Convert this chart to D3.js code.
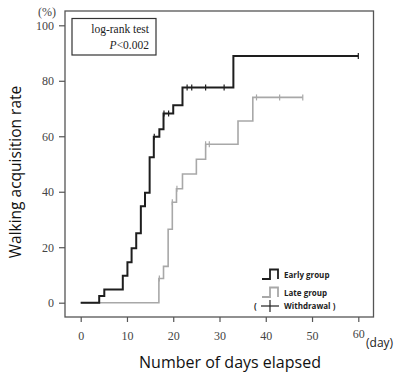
<!DOCTYPE html>
<html lang="en">
<head>
    <meta charset="utf-8">
    <script src="https://d3js.org/d3.v7.min.js"></script>
    <style>
        body { margin: 0; background: #fff; }
        svg { display: block; }
    </style>
</head>
<body>
    <script>
        // early group: step day / rate (%)
        const earlyDays = [0, 4, 5.1, 9.1, 10.1, 11, 12, 13, 13.9, 14.9, 15.8, 17, 17.9, 20, 22, 33, 60];
        const earlyRate = [0, 2.4, 4.8, 9.7, 14.6, 19.6, 25, 34.8, 39.6, 52.4, 59.8, 62.5, 68.2, 71.2, 77.6, 88.9, 88.9];
        const earlyCensor = [15.9, 18, 19, 23, 24, 27, 31, 60];

        // late group
        const lateDays = [0, 16.9, 17.9, 18.9, 19.8, 20.7, 22, 25, 27, 34, 37.2, 48];
        const lateRate = [0, 8.7, 13.1, 26.5, 36.2, 41.1, 46.4, 51.7, 57.1, 65.5, 74, 74];
        const lateCensor = [17, 19.8, 20.8, 27, 27.8, 38, 43, 48];

        const xTicks = [0, 10, 20, 30, 40, 50, 60];
        const yTicks = [0, 20, 40, 60, 80, 100];

        const width = 397, height = 374;

        const svg = d3.select("body").append("svg")
            .attr("width", width)
            .attr("height", height);

        const x = d3.scaleLinear().domain([0, 60]).range([80.7, 358.3]);
        const y = d3.scaleLinear().domain([0, 100]).range([302.7, 25.3]);

        // frame
        svg.append("rect")
            .attr("x", 65).attr("y", 11)
            .attr("width", 373.5 - 65).attr("height", 317 - 11)
            .attr("fill", "none").attr("stroke", "#555").attr("stroke-width", 1.3);

        // y axis
        const yAxis = svg.append("g")
            .attr("transform", "translate(65,0)")
            .attr("font-family", "'Liberation Serif', 'DejaVu Serif', serif")
            .call(d3.axisLeft(y).tickValues(yTicks).tickSize(6).tickPadding(5));
        yAxis.select(".domain").remove();

        // x axis
        const xAxis = svg.append("g")
            .attr("transform", "translate(0,317)")
            .call(d3.axisBottom(x).tickValues(xTicks).tickSize(5).tickPadding(9));
        xAxis.select(".domain").remove();

        svg.selectAll(".tick line").attr("stroke", "#555").attr("stroke-width", 1.2);
        svg.selectAll(".tick text")
            .attr("fill", "#444")
            .attr("font-family", "'Liberation Serif', 'DejaVu Serif', serif")
            .style("font-family", "'Liberation Serif', 'DejaVu Serif', serif")
            .style("font-size", "12px");
        xAxis.selectAll(".tick text").filter(d => d === 60).attr("dy", "0.55em");

        // unit labels
        svg.append("text").attr("x", 47).attr("y", 16)
            .attr("text-anchor", "middle")
            .style("font-family", "'Liberation Serif', serif").style("font-size", "12px")
            .attr("fill", "#444").text("(%)");
        svg.append("text").attr("x", 366).attr("y", 347)
            .style("font-family", "'Open Sans', sans-serif").style("font-size", "12px")
            .attr("fill", "#222").text("(day)");

        // axis titles
        svg.append("text")
            .attr("transform", "translate(21,172) rotate(-90)")
            .attr("text-anchor", "middle")
            .style("font-family", "'Open Sans', sans-serif").style("font-size", "15.5px")
            .attr("fill", "#111").text("Walking acquisition rate");
        svg.append("text")
            .attr("x", 230).attr("y", 368)
            .attr("text-anchor", "middle")
            .style("font-family", "'Open Sans', sans-serif").style("font-size", "16px")
            .attr("fill", "#111").text("Number of days elapsed");

        // curves
        const step = d3.line().x(d => x(d[0])).y(d => y(d[1])).curve(d3.curveStepAfter);

        function drawGroup(days, rate, censor, color, w) {
            const pts = days.map((d, i) => [d, rate[i]]);
            svg.append("path")
                .attr("d", step(pts))
                .attr("fill", "none")
                .attr("stroke", color)
                .attr("stroke-width", w);
            // value at a censor day
            const valueAt = t => {
                let v = 0;
                days.forEach((d, i) => { if (d <= t) v = rate[i]; });
                return v;
            };
            svg.selectAll(null).data(censor).enter().append("line")
                .attr("x1", d => x(d)).attr("x2", d => x(d))
                .attr("y1", d => y(valueAt(d)) - 3)
                .attr("y2", d => y(valueAt(d)) + 3)
                .attr("stroke", color).attr("stroke-width", 1.2);
        }

        drawGroup(lateDays, lateRate, lateCensor, "#a8a8a8", 1.6);
        drawGroup(earlyDays, earlyRate, earlyCensor, "#1e1e1e", 2);

        // log-rank box
        svg.append("rect")
            .attr("x", 72).attr("y", 18.5).attr("width", 84).attr("height", 36.5)
            .attr("fill", "#fff").attr("stroke", "#333").attr("stroke-width", 1.2);
        const lr = svg.append("text")
            .attr("text-anchor", "end")
            .style("font-family", "'Liberation Serif', serif").style("font-size", "11.5px")
            .attr("fill", "#222");
        lr.append("tspan").attr("x", 149).attr("y", 33).text("log-rank test");
        const p2 = lr.append("tspan").attr("x", 149).attr("y", 49);
        p2.append("tspan").style("font-style", "italic").text("P");
        p2.append("tspan").text("<0.002");

        // legend
        const legItems = [
            { label: "Early group", color: "#1e1e1e", y: 279 },
            { label: "Late group", color: "#a8a8a8", y: 297 }
        ];
        legItems.forEach(it => {
            svg.append("path")
                .attr("d", `M262,${it.y} H270 V${it.y - 9.5} H278 V${it.y}`)
                .attr("fill", "none").attr("stroke", it.color).attr("stroke-width", 1.8);
            svg.append("text").attr("x", 284).attr("y", it.y - 1.5)
                .style("font-family", "'Open Sans', sans-serif").style("font-size", "8px")
                .style("font-weight", "bold").attr("fill", "#222").text(it.label);
        });
        svg.append("line").attr("x1", 261).attr("x2", 279).attr("y1", 306).attr("y2", 306)
            .attr("stroke", "#222").attr("stroke-width", 1.2);
        svg.append("line").attr("x1", 270).attr("x2", 270).attr("y1", 300).attr("y2", 312)
            .attr("stroke", "#222").attr("stroke-width", 1.2);
        svg.append("text").attr("x", 254).attr("y", 309)
            .style("font-family", "'Open Sans', sans-serif").style("font-size", "8px")
            .style("font-weight", "bold").attr("fill", "#222").text("(");
        svg.append("text").attr("x", 284).attr("y", 309)
            .style("font-family", "'Open Sans', sans-serif").style("font-size", "8px")
            .style("font-weight", "bold").attr("fill", "#222").text("Withdrawal )");
    </script>
</body>
</html>
